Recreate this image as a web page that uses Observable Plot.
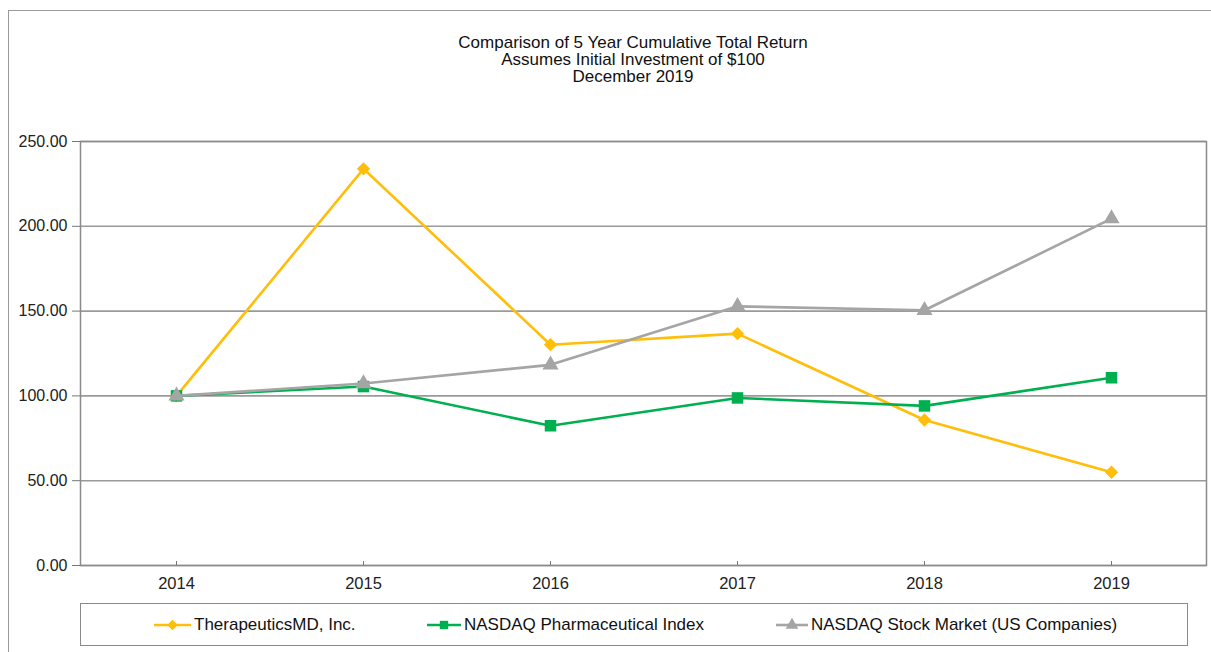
<!DOCTYPE html>
<html><head><meta charset="utf-8">
<script src="https://cdn.jsdelivr.net/npm/d3@7"></script>
<script src="https://cdn.jsdelivr.net/npm/@observablehq/plot@0.6"></script>
<style>
body{margin:0;background:#fff;font-family:"Liberation Sans",Arial,sans-serif;}
#wrap{position:relative;width:1211px;height:652px;overflow:hidden;background:#fff;}
#outer{position:absolute;left:8px;top:10px;width:1220px;height:700px;border:1px solid #9a9a9a;}
#title{position:absolute;top:34px;left:0;width:1266px;text-align:center;font-size:17px;line-height:17px;color:#111;}
#chart{position:absolute;left:0;top:125px;}
#legend{position:absolute;left:80px;top:603px;width:1106px;height:41px;border:1px solid #8a8a8a;font-size:17px;color:#111;}
.item{position:absolute;top:0;height:41px;display:flex;align-items:center;white-space:nowrap;}
.item svg{margin-right:3px;}
</style>
</head>
<body>
<div id="wrap">
  <div id="outer"></div>
  <div id="title">Comparison of 5 Year Cumulative Total Return<br>Assumes Initial Investment of $100<br>December 2019</div>
  <div id="chart"></div>
  <div id="legend"></div>
</div>
<script>
const years = ["2014", "2015", "2016", "2017", "2018", "2019"];
const therapeutics = [100, 233.9, 130.2, 136.7, 85.8, 55.0];
const pharma = [100, 105.5, 82.4, 98.8, 94.1, 110.7];
const nasdaq = [100, 107.3, 118.3, 152.8, 150.5, 204.5];
const seriesNames = ["TherapeuticsMD, Inc.", "NASDAQ Pharmaceutical Index", "NASDAQ Stock Market (US Companies)"];
const seriesColors = ["#FFBE0A", "#00B050", "#A5A5A5"];
const seriesSymbols = ["diamond2", "square", "triangle"];
const yTicks = [0, 50, 100, 150, 200, 250];

const seriesValues = [therapeutics, pharma, nasdaq];
const markR = [6, 6.5, 6];

const seriesMarks = seriesValues.flatMap((vals, i) => {
  const rows = years.map((y, j) => ({year: y, value: vals[j]}));
  return [
    Plot.line(rows, {x: "year", y: "value", stroke: seriesColors[i], strokeWidth: 2.6}),
    Plot.dot(rows, {x: "year", y: "value", symbol: () => seriesSymbols[i], fill: seriesColors[i], stroke: "none", r: markR[i]})
  ];
});

const chart = Plot.plot({
  width: 1211,
  height: 475,
  marginLeft: 80,
  marginRight: 5,
  marginTop: 16,
  marginBottom: 35,
  style: {background: "transparent", fontFamily: "'Liberation Sans', Arial, sans-serif", fontSize: "16px", color: "#222"},
  x: {type: "point", domain: years, padding: 0.5},
  y: {domain: [0, 250]},
  symbol: {type: "identity"},
  marks: [
    Plot.ruleY(yTicks, {stroke: "#9a9a9a", strokeWidth: 1.6}),
    Plot.frame({stroke: "#8a8a8a", strokeWidth: 1.5}),
    Plot.axisY({ticks: yTicks, tickFormat: d3.format(".2f"), tickSize: 8, tickPadding: 5, label: null, stroke: "#777", fontSize: 16}),
    Plot.axisX({tickSize: -4, tickPadding: 16, label: null, stroke: "#777", fontSize: 16.5}),
    ...seriesMarks
  ]
});
document.getElementById("chart").appendChild(chart);

// legend
const legend = document.getElementById("legend");
const itemLefts = [73, 346, 695];
const sampleW = [37, 34, 32];
seriesNames.forEach((name, i) => {
  const div = document.createElement("div");
  div.className = "item";
  div.style.left = itemLefts[i] + "px";
  const w = sampleW[i];
  const svg = d3.create("svg").attr("width", w).attr("height", 16);
  svg.append("line").attr("x1", 0).attr("x2", w).attr("y1", 8).attr("y2", 8)
    .attr("stroke", seriesColors[i]).attr("stroke-width", 2.6);
  svg.append("path").attr("transform", `translate(${w / 2},8)`)
    .attr("d", d3.symbol(i === 0 ? d3.symbolDiamond2 : i === 1 ? d3.symbolSquare : d3.symbolTriangle, 70)())
    .attr("fill", seriesColors[i]);
  div.appendChild(svg.node());
  const span = document.createElement("span");
  span.textContent = name;
  div.appendChild(span);
  legend.appendChild(div);
});
</script>
</body></html>
